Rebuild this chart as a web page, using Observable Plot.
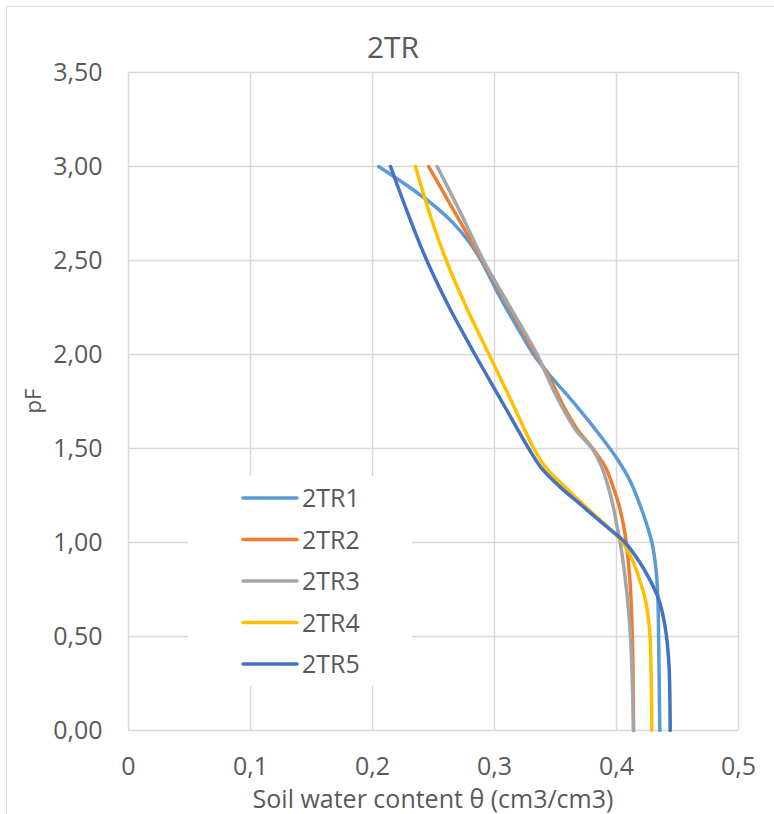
<!DOCTYPE html>
<html><head><meta charset="utf-8">
<script src="https://cdn.jsdelivr.net/npm/d3@7"></script>
<script src="https://cdn.jsdelivr.net/npm/@observablehq/plot@0.6"></script>
<style>
html,body{margin:0;padding:0;background:#fff;overflow:hidden;}
#wrap{position:relative;width:774px;height:814px;overflow:hidden;font-family:"Open Sans",sans-serif;color:#595959;background:#fff;}
#border{position:absolute;left:6px;top:6px;width:900px;height:900px;border:1px solid #d9d9d9;box-sizing:border-box;}
#titlebox{position:relative;height:60px;}
#chart{position:relative;height:754px;}
#legend{position:absolute;left:188px;top:476px;width:224px;height:210px;background:#fff;}
#overlay{position:absolute;left:0;top:0;pointer-events:none;overflow:visible;}
svg text{font-family:"Open Sans",sans-serif;}
</style></head><body>
<div id="wrap">
  <div id="border"></div>
  <div id="titlebox"></div>
  <div id="chart"></div>
  <div id="legend"></div>
  <svg id="overlay" width="774" height="814">
    <text x="393" y="58" text-anchor="middle" font-size="30" fill="#595959">2TR</text>
    <text x="433" y="808" text-anchor="middle" font-size="25" fill="#595959">Soil water content θ (cm3/cm3)</text>
    <text transform="translate(41,401) rotate(-90)" text-anchor="middle" font-size="22" fill="#595959">pF</text>
  </svg>
</div>
<script>
const series = ["2TR1", "2TR2", "2TR3", "2TR4", "2TR5"];
const colors = ["#5B9BD5", "#ED7D31", "#A5A5A5", "#FFC000", "#4472C4"];
const xTicks = [0, 0.1, 0.2, 0.3, 0.4, 0.5];
const yTicks = [0, 0.5, 1.0, 1.5, 2.0, 2.5, 3.0, 3.5];

const pF_2TR1 = [3.00, 2.90, 2.80, 2.70, 2.60, 2.50, 2.30, 2.13, 2.00, 1.90, 1.72, 1.54, 1.45, 1.33, 1.15, 1.00, 0.85, 0.69, 0.50, 0.00];
const theta_2TR1 = [0.205, 0.228, 0.249, 0.266, 0.279, 0.289, 0.305, 0.320, 0.332, 0.344, 0.368, 0.390, 0.400, 0.411, 0.422, 0.429, 0.4325, 0.434, 0.4345, 0.4355];

const pF_2TR2 = [3.00, 2.75, 2.50, 2.25, 2.00, 1.90, 1.80, 1.72, 1.60, 1.50, 1.40, 1.30, 1.20, 1.10, 1.00, 0.80, 0.50, 0.00];
const theta_2TR2 = [0.246, 0.268, 0.290, 0.312, 0.334, 0.343, 0.351, 0.357, 0.368, 0.3805, 0.391, 0.397, 0.402, 0.4055, 0.408, 0.411, 0.413, 0.414];

const pF_2TR3 = [3.00, 2.75, 2.50, 2.25, 2.00, 1.90, 1.80, 1.72, 1.60, 1.54, 1.50, 1.40, 1.30, 1.20, 1.10, 1.00, 0.87, 0.70, 0.50, 0.25, 0.00];
const theta_2TR3 = [0.253, 0.2725, 0.291, 0.313, 0.335, 0.342, 0.349, 0.3555, 0.3664, 0.3746, 0.380, 0.388, 0.393, 0.397, 0.400, 0.403, 0.406, 0.409, 0.4115, 0.413, 0.414];

const pF_2TR4 = [3.00, 2.75, 2.50, 2.25, 2.00, 1.75, 1.50, 1.40, 1.30, 1.20, 1.10, 1.00, 0.90, 0.80, 0.70, 0.60, 0.50, 0.25, 0.00];
const theta_2TR4 = [0.2352, 0.2468, 0.2605, 0.277, 0.2955, 0.314, 0.3322, 0.342, 0.357, 0.373, 0.390, 0.405, 0.4135, 0.419, 0.4235, 0.426, 0.4275, 0.4285, 0.429];

const pF_2TR5 = [3.00, 2.75, 2.50, 2.25, 2.00, 1.75, 1.50, 1.40, 1.30, 1.20, 1.10, 1.00, 0.90, 0.80, 0.70, 0.60, 0.50, 0.35, 0.20, 0.00];
const theta_2TR5 = [0.2148, 0.229, 0.2445, 0.263, 0.284, 0.306, 0.328, 0.338, 0.353, 0.371, 0.389, 0.407, 0.4185, 0.4275, 0.4345, 0.4385, 0.441, 0.443, 0.4437, 0.444];

const pFs = [pF_2TR1, pF_2TR2, pF_2TR3, pF_2TR4, pF_2TR5];
const thetas = [theta_2TR1, theta_2TR2, theta_2TR3, theta_2TR4, theta_2TR5];

const data = [];
series.forEach((s, i) => pFs[i].forEach((p, j) => data.push({series: s, pF: p, theta: thetas[i][j]})));

const fmtX = d => d === 0 ? "0" : d3.format(".1f")(d).replace(".", ",");
const fmtY = d => d3.format(".2f")(d).replace(".", ",");

const plot = Plot.plot({
  width: 774,
  height: 754,
  marginLeft: 128,
  marginRight: 36,
  marginTop: 12,
  marginBottom: 84,
  x: {domain: [0, 0.5]},
  y: {domain: [0, 3.5]},
  color: {domain: series, range: colors},
  style: {fontFamily: "Open Sans", fontSize: "25px", color: "#595959", background: "transparent", overflow: "visible"},
  marks: [
    Plot.ruleX(xTicks, {stroke: "#d9d9d9", strokeWidth: 1.5}),
    Plot.ruleY(yTicks, {stroke: "#d9d9d9", strokeWidth: 1.5}),
    Plot.axisX({ticks: xTicks, tickSize: 0, tickPadding: 27, tickFormat: fmtX, label: null, fontSize: 25}),
    Plot.axisY({ticks: yTicks, tickSize: 0, tickPadding: 26, tickFormat: fmtY, label: null, fontSize: 25}),
    Plot.line(data, {x: "theta", y: "pF", z: "series", stroke: "series", strokeWidth: 3.5, curve: "catmull-rom"})
  ]
});
document.getElementById("chart").appendChild(plot);

// legend
const lg = d3.select("#legend").append("svg").attr("width", 224).attr("height", 210);
series.forEach((s, i) => {
  const y = 22 + i * 41.5;
  lg.append("line").attr("x1", 55).attr("x2", 109).attr("y1", y).attr("y2", y)
    .attr("stroke", colors[i]).attr("stroke-width", 3.5).attr("stroke-linecap", "round");
  lg.append("text").attr("x", 114).attr("y", y).attr("dy", "0.36em")
    .attr("font-size", 25).attr("fill", "#595959").text(s);
});
</script>
</body></html>
